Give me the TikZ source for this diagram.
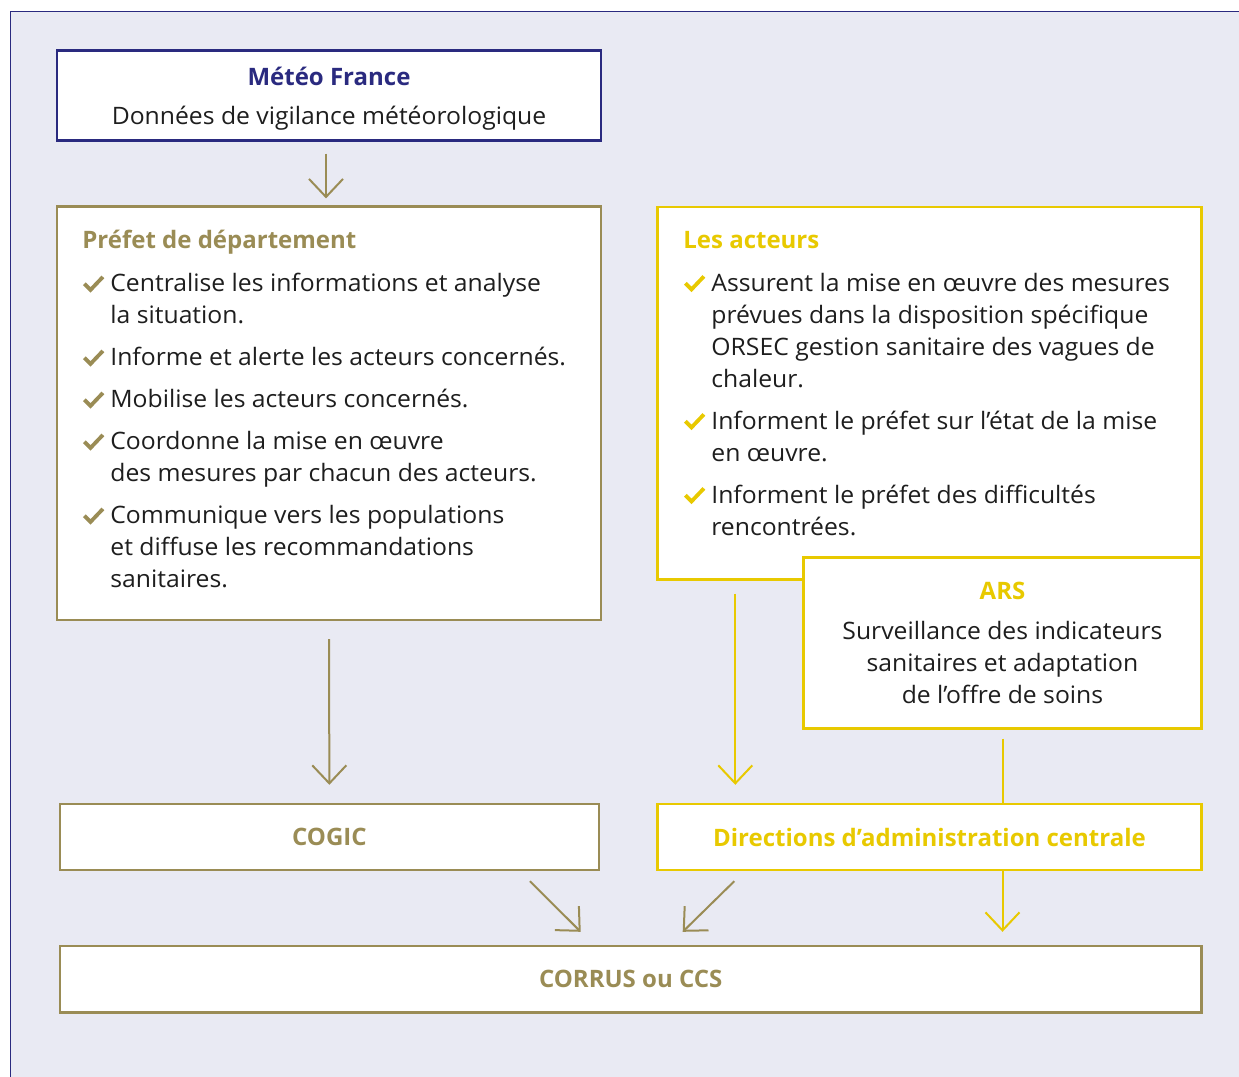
\documentclass[tikz,border=0pt]{standalone}
\usepackage{fontspec}
\setmainfont{Open Sans}[UprightFeatures={FakeStretch=1.03}]
\usepackage{tikz}
\usetikzlibrary{arrows.meta,calc}

\definecolor{navy}{HTML}{2A2A7F}
\definecolor{olive}{HTML}{9A8C55}
\definecolor{jaune}{HTML}{E8C900}
\definecolor{fond}{HTML}{E9EAF3}
\definecolor{texte}{HTML}{1E1E1E}

% one ticked line of a list: colour, text
\newcommand{\coche}[1]{\tikz[baseline=0pt]{\draw[#1, line width=1.9pt] (0.3pt,3.9pt) -- (3.4pt,0.8pt) -- (9.6pt,7.3pt);}}
\newcommand{\point}[2]{\par\noindent\hangindent=14pt\hangafter=1%
  \makebox[14pt][l]{\coche{#1}}#2\par}
\newcommand{\liste}[2]{\parbox[t]{#1}{\fontsize{12}{16}\selectfont
  \setlength{\parskip}{5pt}\rightskip=0pt plus 1fil #2}}

\tikzset{
  boite/.style={draw=#1, line width=1.2pt, fill=white, inner sep=0pt},
  titre/.style={text=#1, font=\bfseries\fontsize{12}{16}\selectfont, inner sep=0pt},
  corps/.style={text=texte, font=\fontsize{12}{16}\selectfont, inner sep=0pt},
  fleche/.style={draw=#1, line width=1pt, -{Straight Barb[length=9pt,width=17pt]}}
}

\begin{document}
\begin{tikzpicture}[x=0.5pt, y=-0.5pt]
    \useasboundingbox (0,0) rectangle (1239,1077);

    % Background panel
    \fill[fond] (10,11) rectangle (1239,1077);
    \draw[navy, line width=0.5pt] (10,1077) -- (10,11) -- (1239,11);

    % Meteo France
    \node[boite=navy, minimum width=272pt, minimum height=45pt] (meteo) at (329,95.3) {};
    \node[titre=navy, anchor=base] (meteotitre) at (329,85) {Météo France};
    \node[corps, anchor=base] (meteotexte) at (329,124) {Données de vigilance météorologique};

    % Prefet de departement
    \node[boite=olive, minimum width=272pt, minimum height=206.7pt] (prefet) at (329,413.3) {};
    \node[titre=olive, anchor=base west] (prefettitre) at (82,248.3) {Préfet de département};
    \node[corps, anchor=base west] (prefetliste) at (82,291.5) {\liste{250pt}{%
      \point{olive}{Centralise les informations et analyse\newline la situation.}
      \point{olive}{Informe et alerte les acteurs concernés.}
      \point{olive}{Mobilise les acteurs concernés.}
      \point{olive}{Coordonne la mise en œuvre\newline des mesures par chacun des acteurs.}
      \point{olive}{Communique vers les populations\newline et diffuse les recommandations\newline sanitaires.}}};

    % Les acteurs
    \node[boite=jaune, minimum width=272pt, minimum height=186.3pt] (acteurs) at (929.5,393) {};
    \node[titre=jaune, anchor=base west] (acteurstitre) at (683,248.3) {Les acteurs};
    \node[corps, anchor=base west] (acteursliste) at (683,291) {\liste{250pt}{%
      \point{jaune}{Assurent la mise en œuvre des mesures\newline prévues dans la disposition spécifique\newline ORSEC gestion sanitaire des vagues de\newline chaleur.}
      \point{jaune}{Informent le préfet sur l’état de la mise\newline en œuvre.}
      \point{jaune}{Informent le préfet des difficultés\newline rencontrées.}}};

    % ARS
    \node[boite=jaune, minimum width=199pt, minimum height=85.5pt] (ars) at (1002.5,642.8) {};
    \node[titre=jaune, anchor=base] (arstitre) at (1002.5,599.3) {ARS};
    \node[corps, anchor=base] (arstexte) at (1002.5,639.3) {\parbox[t]{190pt}{\centering
      Surveillance des indicateurs\\ sanitaires et adaptation\\ de l’offre de soins}};

    % Lower boxes
    \node[boite=olive, minimum width=269.3pt, minimum height=33pt, titre=olive] (cogic) at (329.4,837) {COGIC};
    \node[boite=jaune, minimum width=272pt, minimum height=33pt, titre=jaune] (dac) at (929.5,837) {Directions d’administration centrale};
    \node[boite=olive, minimum width=570.7pt, minimum height=33.2pt, titre=olive] (corrus) at (630.7,979.2) {CORRUS ou CCS};

    % Arrows
    \draw[fleche=olive, shorten <=6pt, shorten >=3.5pt] ([xshift=-1.5pt]meteo.south) -- ([xshift=-1.5pt]prefet.north);
    \draw[fleche=olive, shorten <=9pt, shorten >=9pt] (prefet.south) -- (cogic.north);
    \draw[fleche=jaune, shorten <=6.5pt, shorten >=9pt] ([xshift=39.5pt]acteurs.south west) -- ([xshift=39.5pt]dac.north west);
    \draw[draw=jaune, line width=1pt, shorten <=4.5pt] (ars.south) -- (ars.south |- dac.north);
    \draw[fleche=jaune, shorten >=6.5pt] (ars.south |- dac.south) -- (ars.south |- corrus.north);

    \coordinate (depart1) at ([xshift=-35pt,yshift=-5pt]cogic.south east);
    \coordinate (arrivee1) at ([xshift=-25pt,yshift=6.5pt]corrus.north);
    \coordinate (depart2) at ([xshift=39pt,yshift=-5pt]dac.south west);
    \coordinate (arrivee2) at ([xshift=26pt,yshift=6.5pt]corrus.north);
    \draw[fleche=olive] (depart1) -- (arrivee1);
    \draw[fleche=olive] (depart2) -- (arrivee2);
\end{tikzpicture}
\end{document}
